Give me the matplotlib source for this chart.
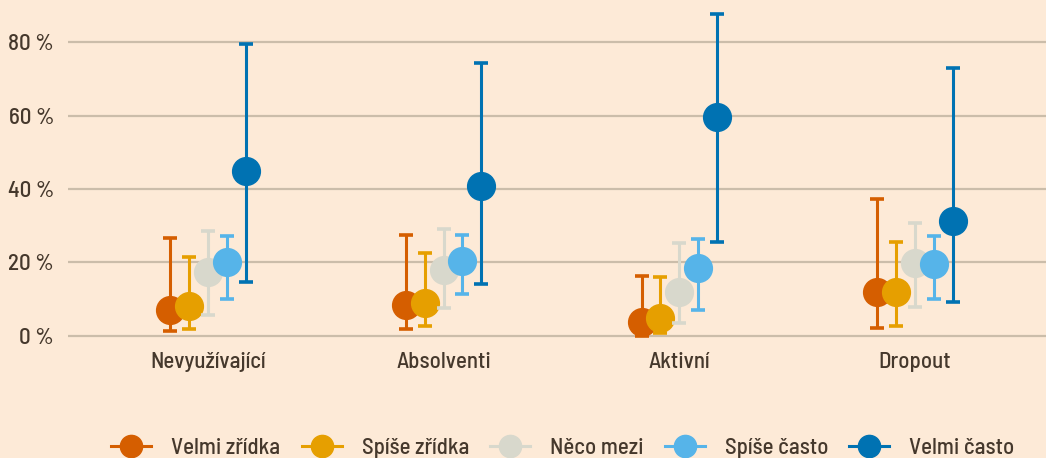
import numpy as np
import matplotlib.pyplot as plt
from matplotlib.lines import Line2D

groups = ["Nevyužívající", "Absolventi", "Aktivní", "Dropout"]
series = ["Velmi zřídka", "Spíše zřídka", "Něco mezi", "Spíše často", "Velmi často"]
colors = ["#D55E00", "#E69F00", "#D8D8CC", "#56B4E9", "#0072B2"]

# mean values (%) per series, one per group
vals = [
    [7.0, 8.4, 3.8, 12.0],
    [8.2, 9.0, 4.9, 12.0],
    [17.4, 18.0, 12.0, 19.9],
    [20.0, 20.4, 18.5, 19.6],
    [45.0, 40.8, 59.6, 31.3],
]
# lower / upper interval bounds (%)
low = [
    [1.4, 1.9, 0.0, 2.2],
    [2.0, 2.7, 0.8, 2.7],
    [5.7, 7.6, 3.5, 7.9],
    [10.0, 11.4, 7.1, 10.0],
    [14.7, 14.1, 25.6, 9.3],
]
high = [
    [26.7, 27.5, 16.3, 37.3],
    [21.5, 22.6, 16.0, 25.6],
    [28.6, 29.0, 25.3, 30.7],
    [27.2, 27.5, 26.4, 27.2],
    [79.5, 74.3, 87.6, 72.9],
]

bg = "#FDEAD7"
txt = "#45382C"
plt.rcParams['font.family'] = ['Ubuntu Condensed', 'Barlow Semi Condensed', 'DejaVu Sans']
plt.rcParams['font.weight'] = 500

fig = plt.figure(figsize=(10.46, 4.58), dpi=100, facecolor=bg)
ax = fig.add_axes([68/1046, (458-345)/458, (1046-68)/1046, 345/458])
ax.set_facecolor(bg)

x = np.arange(len(groups))
offs = [-0.16, -0.08, 0.0, 0.08, 0.16]
for i, name in enumerate(series):
    v = np.array(vals[i])
    err = [v - np.array(low[i]), np.array(high[i]) - v]
    ax.errorbar(x + offs[i], v, yerr=err, fmt='o', color=colors[i],
                markersize=20, elinewidth=2.2, capsize=5, capthick=2.6,
                clip_on=False, zorder=3 + i)

ax.set_xlim(-0.594, 3.556)
ax.set_ylim(-2.45, 91.43)
ax.set_yticks([0, 20, 40, 60, 80])
ax.set_yticklabels(["0 %", "20 %", "40 %", "60 %", "80 %"])
ax.set_xticks(x)
ax.set_xticklabels(groups)
ax.grid(axis='y', color='#CBBDAA', linewidth=1.6)
ax.set_axisbelow(True)
for s in ax.spines.values():
    s.set_visible(False)
ax.tick_params(axis='y', length=0, pad=10, labelsize=16.5, labelcolor=txt)
ax.tick_params(axis='x', length=0, pad=5, labelsize=16.5, labelcolor=txt)

handles = [Line2D([0], [0], color=c, marker='o', markersize=16, linewidth=2.2)
           for c in colors]
fig.legend(handles, series, loc='center', bbox_to_anchor=(563/1046, 1 - 448/458),
           ncol=5, frameon=False, fontsize=16.5, labelcolor=txt, handlelength=1.75,
           columnspacing=0.92, handletextpad=0.87)

fig.savefig("out.png", dpi=100, facecolor=bg)
